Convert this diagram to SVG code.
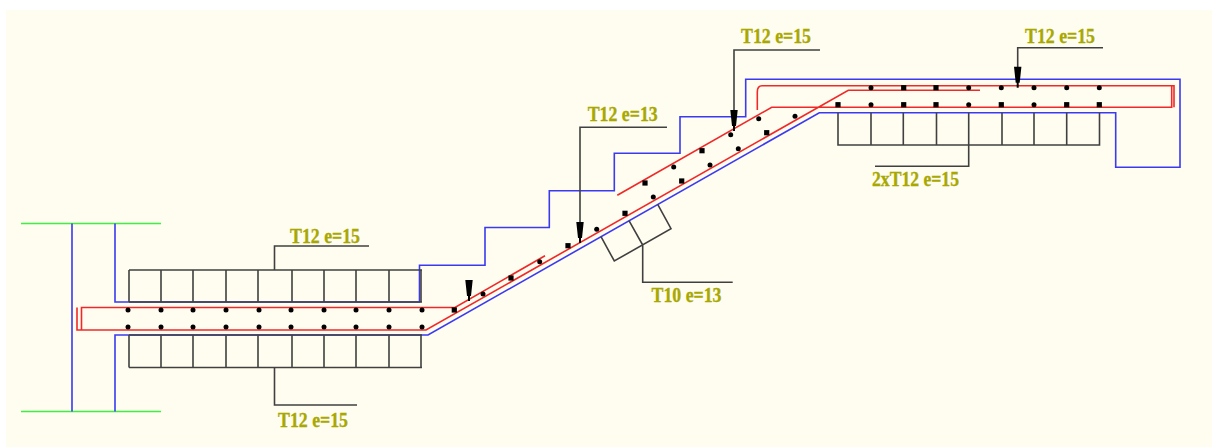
<svg xmlns="http://www.w3.org/2000/svg" width="1212" height="447" viewBox="0 0 1212 447">
<style>
.g{fill:none;stroke:#40f040;stroke-width:1.5}
.b{fill:none;stroke:#3a3af0;stroke-width:1.6}
.r{fill:none;stroke:#f02828;stroke-width:1.6}
.k{fill:none;stroke:#404040;stroke-width:1.6}
.t{font-family:"Liberation Serif",serif;font-size:22px;font-weight:bold;fill:#a8a800;stroke:#a8a800;stroke-width:.35}
</style>
<defs>
<circle id="c" r="2.5" fill="#000"/>
<rect id="s" x="-2.600" y="-2.600" width="5.200" height="5.200" fill="#000"/>
<path id="a" d="M-3.700 0H3.700L2 16H1V21H-1V16H-2Z" fill="#000"/>
</defs>
<rect x="6" y="10" width="1206" height="437" fill="#fffcf0"/>
<g id="connectors">
<path class="g" d="M21 223.500H161M21 411.500H161"/>
<path class="b" d="M72 223.500V411.500M115 223.500V302H419.500V265.300H485V227.500H549.300V190.700H614.300V153.300H680V116.700H745.700V79.300H1180V167.300H1115.700V112.700H819.300L428 335H115V411.500"/>
<path class="r" d="M81.500 330V307.500H455L545 255.700M77 307.500V330H426L848.300 90.300H980M617.300 195.300L771.700 107.300H1171.700V85.700M757.300 110V92Q757.300 85.700 762 85.700H1174V107.300"/>
<path class="k" d="M129 270H422M129 302H422M129 335H422M129 367.500H422M129 270V302M161 270V302M193 270V302M226 270V302M258 270V302M292 270V302M324 270V302M356 270V302M389 270V302M421 270V302M129 335V367.500M161 335V367.500M193 335V367.500M226 335V367.500M258 335V367.500M292 335V367.500M324 335V367.500M356 335V367.500M389 335V367.500M421 335V367.500"/>
<path class="k" d="M274.500 270V246H369M274.500 367.500V405H357"/>
<path class="k" d="M601 236.700L614.300 261L671 228.700L657.700 204.300M629 220.700L642.700 245V282.300H732.700"/>
<path class="k" d="M838 112.700V145H1099.500V112.700M871 112.700V145M903.300 112.700V145M936.500 112.700V145M968.700 112.700V166.300H875M1002 112.700V145M1034 112.700V145M1066.700 112.700V145"/>
<path class="k" d="M580 240V127.300H667M734 125V50H820M1017.700 80V47.700H1103"/>
</g>
<g id="arrows">
<use href="#a" x="580" y="222"/>
<use href="#a" x="734" y="110"/>
<use href="#a" x="1017.700" y="66.700"/>
<use href="#a" x="469" y="280"/>
</g>
<g id="bars">
<use href="#c" x="128" y="310"/><use href="#c" x="161" y="310"/><use href="#c" x="193" y="310"/><use href="#c" x="226" y="310"/><use href="#c" x="259" y="310"/><use href="#c" x="291" y="310"/><use href="#c" x="324" y="310"/><use href="#c" x="356" y="310"/><use href="#c" x="389" y="310"/><use href="#c" x="422" y="310"/>
<use href="#c" x="128" y="327"/><use href="#c" x="161" y="327"/><use href="#c" x="193" y="327"/><use href="#c" x="226" y="327"/><use href="#c" x="259" y="327"/><use href="#c" x="291" y="327"/><use href="#c" x="324" y="327"/><use href="#c" x="356" y="327"/><use href="#c" x="389" y="327"/><use href="#c" x="422" y="327"/>
<use href="#s" x="454.300" y="310"/><use href="#c" x="483" y="294"/><use href="#s" x="511" y="278"/><use href="#c" x="539.700" y="261.700"/><use href="#s" x="568" y="245.700"/><use href="#c" x="596.700" y="229.300"/><use href="#s" x="625" y="213.300"/><use href="#c" x="653.300" y="197"/><use href="#s" x="681.700" y="181"/><use href="#c" x="710" y="165"/><use href="#c" x="738.300" y="148.700"/><use href="#s" x="766.700" y="132.700"/><use href="#c" x="795" y="116.300"/>
<use href="#s" x="645" y="183"/><use href="#c" x="673.700" y="167"/><use href="#s" x="702" y="150.700"/><use href="#c" x="730.700" y="134.700"/><use href="#c" x="758.700" y="118.700"/>
<use href="#c" x="871" y="87.700"/><use href="#s" x="903.700" y="87.700"/><use href="#s" x="936" y="87.700"/><use href="#c" x="968.700" y="87.700"/><use href="#c" x="1001.300" y="87.700"/><use href="#c" x="1034" y="87.700"/><use href="#c" x="1066.700" y="87.700"/><use href="#c" x="1099.300" y="87.700"/>
<use href="#s" x="838" y="104.700"/><use href="#c" x="871" y="104.700"/><use href="#s" x="903.700" y="104.700"/><use href="#s" x="936" y="104.700"/><use href="#c" x="968.700" y="104.700"/><use href="#s" x="1001.300" y="104.700"/><use href="#c" x="1034" y="104.700"/><use href="#s" x="1066.700" y="104.700"/><use href="#s" x="1099.300" y="104.700"/>
</g>
<g id="labels">
<text class="t" x="290" y="243" textLength="70" lengthAdjust="spacingAndGlyphs">T12 e=15</text>
<text class="t" x="278" y="426.500" textLength="70" lengthAdjust="spacingAndGlyphs">T12 e=15</text>
<text class="t" x="587.700" y="120.500" textLength="70" lengthAdjust="spacingAndGlyphs">T12 e=13</text>
<text class="t" x="651.500" y="302" textLength="70" lengthAdjust="spacingAndGlyphs">T10 e=13</text>
<text class="t" x="741" y="43" textLength="70" lengthAdjust="spacingAndGlyphs">T12 e=15</text>
<text class="t" x="1025" y="43" textLength="70" lengthAdjust="spacingAndGlyphs">T12 e=15</text>
<text class="t" x="872" y="186" textLength="87" lengthAdjust="spacingAndGlyphs">2xT12 e=15</text>
</g>
</svg>
